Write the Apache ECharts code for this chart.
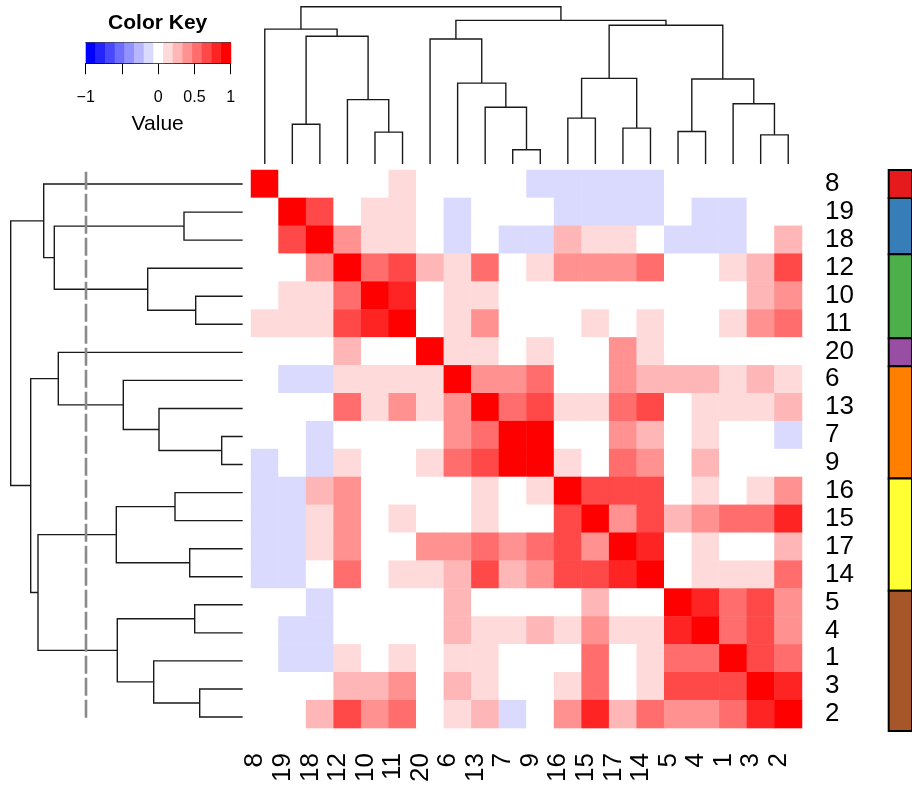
<!DOCTYPE html>
<html>
<head>
<meta charset="utf-8">
<script src="https://cdn.jsdelivr.net/npm/echarts@6/dist/echarts.min.js"></script>
<style>
  html, body { margin: 0; padding: 0; background: #ffffff; }
  #chart { width: 912px; height: 785px; }
</style>
</head>
<body>
<div id="chart"></div>
<script>
// Leaf order after clustering (same for rows and columns)
const leafOrder = ['8','19','18','12','10','11','20','6','13','7','9','16','15','17','14','5','4','1','3','2'];

// Correlation matrix in leaf order (rows top to bottom, columns left to right)
const corr = [
  [1, 0, 0, 0, 0, .14, 0, 0, 0, 0, -.12, -.12, -.12, -.12, -.12, 0, 0, 0, 0, 0],
  [0, 1, .66, 0, .14, .14, 0, -.12, 0, 0, 0, -.12, -.12, -.12, -.12, 0, -.12, -.12, 0, 0],
  [0, .66, 1, .4, .14, .14, 0, -.12, 0, -.12, -.12, .27, .14, .14, 0, -.12, -.12, -.12, 0, .27],
  [0, 0, .4, 1, .53, .66, .27, .14, .53, 0, .14, .4, .4, .4, .53, 0, 0, .14, .27, .66],
  [0, .14, .14, .53, 1, .8, 0, .14, .14, 0, 0, 0, 0, 0, 0, 0, 0, 0, .27, .4],
  [.14, .14, .14, .66, .8, 1, 0, .14, .4, 0, 0, 0, .14, 0, .14, 0, 0, .14, .4, .53],
  [0, 0, 0, .27, 0, 0, 1, .14, .14, 0, .14, 0, 0, .4, .14, 0, 0, 0, 0, 0],
  [0, -.12, -.12, .14, .14, .14, .14, 1, .4, .4, .53, 0, 0, .4, .27, .27, .27, .14, .27, .14],
  [0, 0, 0, .53, .14, .4, .14, .4, 1, .53, .66, .14, .14, .53, .66, 0, .14, .14, .14, .27],
  [0, 0, -.12, 0, 0, 0, 0, .4, .53, 1, .9, 0, 0, .4, .27, 0, .14, 0, 0, -.12],
  [-.12, 0, -.12, .14, 0, 0, .14, .53, .66, .9, 1, .14, 0, .53, .4, 0, .27, 0, 0, 0],
  [-.12, -.12, .27, .4, 0, 0, 0, 0, .14, 0, .14, 1, .66, .66, .66, 0, .14, 0, .14, .4],
  [-.12, -.12, .14, .4, 0, .14, 0, 0, .14, 0, 0, .66, 1, .4, .66, .27, .4, .53, .53, .8],
  [-.12, -.12, .14, .4, 0, 0, .4, .4, .53, .4, .53, .66, .4, 1, .8, 0, .14, 0, 0, .27],
  [-.12, -.12, 0, .53, 0, .14, .14, .27, .66, .27, .4, .66, .66, .8, 1, 0, .14, .14, .14, .53],
  [0, 0, -.12, 0, 0, 0, 0, .27, 0, 0, 0, 0, .27, 0, 0, 1, .8, .53, .66, .4],
  [0, -.12, -.12, 0, 0, 0, 0, .27, .14, .14, .27, .14, .4, .14, .14, .8, 1, .53, .66, .4],
  [0, -.12, -.12, .14, 0, .14, 0, .14, .14, 0, 0, 0, .53, 0, .14, .53, .53, 1, .66, .53],
  [0, 0, 0, .27, .27, .4, 0, .27, .14, 0, 0, .14, .53, 0, .14, .66, .66, .66, 1, .8],
  [0, 0, .27, .66, .4, .53, 0, .14, .27, -.12, 0, .4, .8, .27, .53, .4, .4, .53, .8, 1]
];

// Hierarchical clustering merges (hclust style: negative = leaf label, positive = earlier merge)
const mergePairs = [
  [-7, -9], [-3, -2], [-10, -11], [-5, -4], [-17, -14], [-19, -18], [-16, -15],
  [-13, 1], [-1, 2], [-12, 3], [-6, 8], [4, 9], [7, 5], [-20, 11], [6, 10],
  [-8, 15], [13, 12], [14, 17], [16, 18]
];
const mergeHeights = [
  0.21, 0.43, 0.47, 0.48, 0.53, 0.587, 0.677,
  0.837, 0.89, 0.95, 1.194, 1.254, 1.264, 1.844, 1.884,
  1.99, 2.047, 2.12, 2.32
];

// Tree cut and cluster membership of the rows (in leaf order)
const cutHeight = 1.567;
const rowCluster = [1, 2, 2, 3, 3, 3, 4, 5, 5, 5, 5, 6, 6, 6, 6, 7, 7, 7, 7, 7];
const clusterColors = ['#E41A1C', '#377EB8', '#4DAF4A', '#984EA3', '#FF7F00', '#FFFF33', '#A65628'];

// Colour breaks (blue-white-red, 15 bins on [-1, 1])
const keyBreaks = [-1, -0.8667, -0.7333, -0.6, -0.4667, -0.3333, -0.2, -0.0667,
                   0.0667, 0.2, 0.3333, 0.4667, 0.6, 0.7333, 0.8667, 1];
const keyColors = ['#0000FF', '#2424FF', '#4848FF', '#6D6DFF', '#9191FF', '#B6B6FF', '#DADAFF', '#FFFFFF',
                   '#FFDADA', '#FFB6B6', '#FF9191', '#FF6D6D', '#FF4848', '#FF2424', '#FF0000'];
const keyTicks = [-1, -0.5, 0, 0.5, 1];
const keyTickLabels = ['\u22121', '', '0', '0.5', '1'];

const FONT = "'Liberation Sans', Arial, Helvetica, sans-serif";

// ---- derived structures ----
const heatData = [];
corr.forEach((row, r) => row.forEach((v, c) => heatData.push([c, r, v])));

const nodePos = [];
const dendroSegs = [];
mergePairs.forEach((pair, i) => {
  const ch = pair.map(c => c < 0
    ? { x: leafOrder.indexOf(String(-c)) + 0.5, h: 0 }
    : { x: nodePos[c - 1], h: mergeHeights[c - 1] });
  nodePos[i] = (ch[0].x + ch[1].x) / 2;
  dendroSegs.push([ch[0].x, ch[0].h, ch[1].x, ch[1].h, mergeHeights[i]]);
});

const clusterBlocks = [];
rowCluster.forEach((cl, i) => {
  const last = clusterBlocks[clusterBlocks.length - 1];
  if (last && last[2] === cl) last[1] = i;
  else clusterBlocks.push([i, i, cl]);
});

const keyBins = keyColors.map((c, i) => [keyBreaks[i], keyBreaks[i + 1], i]);
const pieces = keyColors.map((c, i) => (i === keyColors.length - 1
  ? { gte: keyBreaks[i], lte: keyBreaks[i + 1], color: c }
  : { gte: keyBreaks[i], lt: keyBreaks[i + 1], color: c }));

const dendroStyle = { stroke: '#1a1a1a', lineWidth: 1.4, fill: null };

const chart = echarts.init(document.getElementById('chart'), null, { renderer: 'canvas' });

const option = {
  backgroundColor: '#ffffff',
  animation: false,
  grid: [
    { left: 251, top: 170, width: 551, height: 561 },      // heatmap
    { left: 251, top: 0, width: 551, height: 164 },        // column dendrogram
    { left: 0, top: 170, width: 242.7, height: 561 },      // row dendrogram
    { left: 888.7, top: 170, width: 60, height: 561 },     // cluster side bar
    { left: 85.7, top: 42.7, width: 145, height: 20.6 }    // colour key
  ],
  xAxis: [
    {
      gridIndex: 0, type: 'category', data: leafOrder, position: 'bottom',
      axisLine: { show: false }, axisTick: { show: false }, splitLine: { show: false },
      axisLabel: {
        interval: 0, rotate: 90, margin: 25, fontSize: 26, color: '#000',
        fontFamily: FONT, verticalAlign: 'bottom', lineHeight: 19
      }
    },
    { gridIndex: 1, type: 'value', min: 0, max: 20, show: false },
    { gridIndex: 2, type: 'value', min: 0, max: 2.427, inverse: true, show: false },
    { gridIndex: 3, type: 'value', min: 0, max: 1, show: false },
    {
      gridIndex: 4, type: 'value', min: -1, max: 1, interval: 0.5, position: 'bottom',
      axisLine: { show: true, lineStyle: { color: '#000', width: 1 } },
      axisTick: { show: true, length: 11, lineStyle: { color: '#000', width: 1 } },
      splitLine: { show: false },
      axisLabel: {
        margin: 26, fontSize: 16, color: '#000', fontFamily: FONT,
        showMinLabel: true, showMaxLabel: true,
        formatter: v => {
          const k = keyTicks.findIndex(t => Math.abs(t - v) < 1e-6);
          return k >= 0 ? keyTickLabels[k] : '';
        }
      }
    },
    {
      gridIndex: 4, type: 'value', min: -1, max: 1, position: 'top',
      axisLine: { show: true, lineStyle: { color: '#444', width: 1 } },
      axisTick: { show: false }, axisLabel: { show: false }, splitLine: { show: false }
    }
  ],
  yAxis: [
    {
      gridIndex: 0, type: 'category', data: leafOrder, inverse: true, position: 'right',
      axisLine: { show: false }, axisTick: { show: false }, splitLine: { show: false },
      axisLabel: { interval: 0, margin: 23, fontSize: 26, color: '#000', fontFamily: FONT,
                   verticalAlign: 'middle', padding: [3, 0, 0, 0] }
    },
    { gridIndex: 1, type: 'value', min: 0, max: 2.42, show: false },
    { gridIndex: 2, type: 'value', min: 0, max: 20, inverse: true, show: false },
    { gridIndex: 3, type: 'category', data: leafOrder, inverse: true, show: false },
    { gridIndex: 4, type: 'value', min: 0, max: 1, show: false }
  ],
  visualMap: {
    type: 'piecewise', show: false, seriesIndex: 0, dimension: 2, pieces: pieces
  },
  series: [
    {
      type: 'heatmap', xAxisIndex: 0, yAxisIndex: 0, data: heatData,
      itemStyle: { borderWidth: 0 }, emphasis: { disabled: true }, silent: true
    },
    {
      type: 'custom', xAxisIndex: 1, yAxisIndex: 1, data: dendroSegs, silent: true,
      renderItem: (params, api) => {
        const xl = api.value(0), hl = api.value(1), xr = api.value(2), hr = api.value(3), h = api.value(4);
        const pts = [[xl, hl], [xl, h], [xr, h], [xr, hr]].map(p => api.coord(p));
        return { type: 'polyline', shape: { points: pts }, style: dendroStyle };
      }
    },
    {
      type: 'custom', xAxisIndex: 2, yAxisIndex: 2, data: dendroSegs, silent: true,
      renderItem: (params, api) => {
        const xl = api.value(0), hl = api.value(1), xr = api.value(2), hr = api.value(3), h = api.value(4);
        const pts = [[hl, xl], [h, xl], [h, xr], [hr, xr]].map(p => api.coord(p));
        return { type: 'polyline', shape: { points: pts }, style: dendroStyle };
      }
    },
    {
      // cut line of the row tree
      type: 'custom', xAxisIndex: 2, yAxisIndex: 2, data: [[cutHeight, 0.06, 19.6]], silent: true,
      renderItem: (params, api) => {
        const a = api.coord([api.value(0), api.value(1)]);
        const b = api.coord([api.value(0), api.value(2)]);
        return {
          type: 'line', shape: { x1: a[0], y1: a[1], x2: b[0], y2: b[1] },
          style: { stroke: '#8a8a8a', lineWidth: 2.6, lineDash: [18, 4] }
        };
      }
    },
    {
      type: 'custom', xAxisIndex: 3, yAxisIndex: 3, data: clusterBlocks, silent: true,
      renderItem: (params, api) => {
        const band = api.size([0, 1])[1];
        const top = api.coord([0, api.value(0)]);
        const bot = api.coord([1, api.value(1)]);
        return {
          type: 'rect',
          shape: { x: top[0], y: top[1] - band / 2, width: bot[0] - top[0], height: bot[1] - top[1] + band },
          style: { fill: clusterColors[api.value(2) - 1], stroke: '#000', lineWidth: 2 }
        };
      }
    },
    {
      type: 'custom', xAxisIndex: 4, yAxisIndex: 4, data: keyBins, silent: true,
      renderItem: (params, api) => {
        const p0 = api.coord([api.value(0), 1]);
        const p1 = api.coord([api.value(1), 0]);
        return {
          type: 'rect',
          shape: { x: p0[0], y: p0[1], width: p1[0] - p0[0] + 0.5, height: p1[1] - p0[1] },
          style: { fill: keyColors[api.value(2)] }
        };
      }
    }
  ],
  graphic: [
    {
      type: 'text', x: 157.7, y: 23,
      style: { text: 'Color Key', font: "bold 21px " + FONT, fill: '#000', align: 'center', verticalAlign: 'middle' }
    },
    {
      type: 'text', x: 157.7, y: 124,
      style: { text: 'Value', font: "21px " + FONT, fill: '#000', align: 'center', verticalAlign: 'middle' }
    }
  ]
};

chart.setOption(option);
</script>
</body>
</html>
